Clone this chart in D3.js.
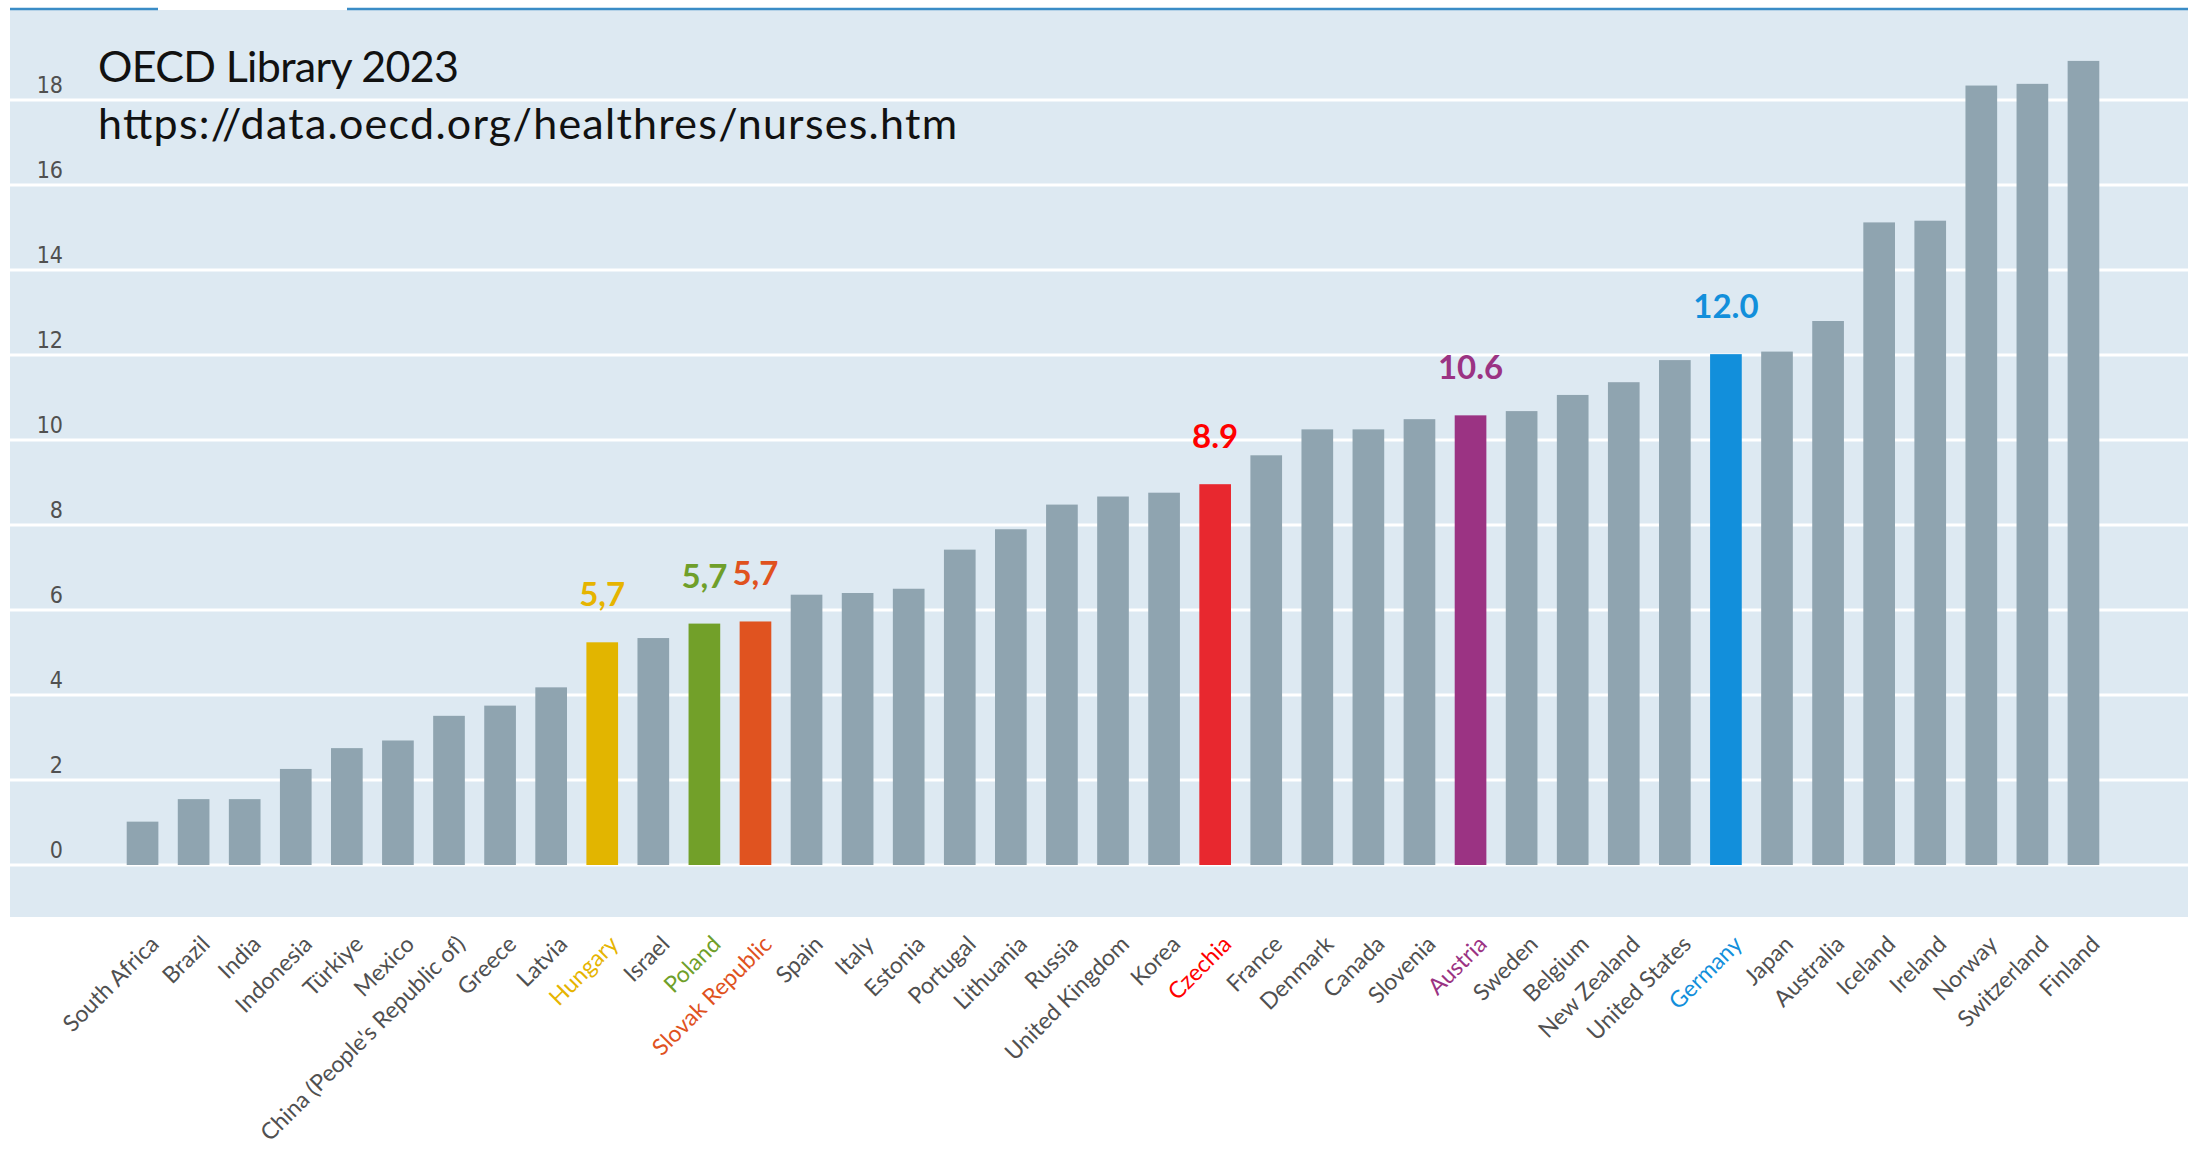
<!DOCTYPE html>
<html>
<head>
<meta charset="utf-8">
<script src="https://cdn.jsdelivr.net/npm/d3@7"></script>
<style>
  html, body { margin: 0; padding: 0; background: #ffffff; }
  svg { display: block; }
</style>
</head>
<body>
<svg id="chart" width="2188" height="1152"></svg>
<script>
// practising nurses per 1000 population
var countries = ["South Africa", "Brazil", "India", "Indonesia", "Türkiye", "Mexico",
    "China (People's Republic of)", "Greece", "Latvia", "Hungary", "Israel", "Poland",
    "Slovak Republic", "Spain", "Italy", "Estonia", "Portugal", "Lithuania", "Russia",
    "United Kingdom", "Korea", "Czechia", "France", "Denmark", "Canada", "Slovenia",
    "Austria", "Sweden", "Belgium", "New Zealand", "United States", "Germany", "Japan",
    "Australia", "Iceland", "Ireland", "Norway", "Switzerland", "Finland"];
var nurses = [1.02, 1.55, 1.55, 2.26, 2.75, 2.93,
    3.51, 3.75, 4.18, 5.24, 5.34, 5.68,
    5.73, 6.36, 6.40, 6.50, 7.42, 7.90, 8.48,
    8.67, 8.76, 8.96, 9.64, 10.25, 10.25, 10.49,
    10.58, 10.68, 11.06, 11.36, 11.88, 12.02, 12.08,
    12.80, 15.12, 15.16, 18.34, 18.38, 18.92];

var highlighted = ["Hungary", "Poland", "Slovak Republic", "Czechia", "Austria", "Germany"];
var highlightLabels = ["5,7", "5,7", "5,7", "8.9", "10.6", "12.0"];
var highlightColors = ["#e2b500", "#72a029", "#e05320", "#e8282f", "#9b3383", "#128fdb"];
var labelColors = ["#e6b400", "#6f9f2a", "#e0521e", "#ff0000", "#9b3383", "#128fdb"];

var yTicks = [0, 2, 4, 6, 8, 10, 12, 14, 16, 18];
var titleLines = ["OECD Library 2023", "https://data.oecd.org/healthres/nurses.htm"];

var svg = d3.select("#chart"),
    W = 2188,
    panelTop = 10,
    panelBottom = 917,
    panelLeft = 10,
    barColor = "#8fa4b0",
    tickColor = "#505050",
    titleWidths = [361, 859];

var x = d3.scaleBand()
    .domain(countries)
    .range([117, 2109])
    .paddingInner(0.38)
    .paddingOuter(0.19);

var y = d3.scaleLinear()
    .domain([0, 18])
    .range([865, 100]);

function colorOf(name) {
    var i = highlighted.indexOf(name);
    return i < 0 ? barColor : highlightColors[i];
}

// panel background
svg.append("rect")
    .attr("x", panelLeft)
    .attr("y", panelTop)
    .attr("width", W - panelLeft)
    .attr("height", panelBottom - panelTop)
    .attr("fill", "#dde9f2");

// blue rule at top, with the little gap
svg.append("line").attr("x1", panelLeft).attr("x2", 158).attr("y1", 9).attr("y2", 9)
    .attr("stroke", "#3a8cc6").attr("stroke-width", 2.5);
svg.append("line").attr("x1", 347).attr("x2", W).attr("y1", 9).attr("y2", 9)
    .attr("stroke", "#3a8cc6").attr("stroke-width", 2.5);

// gridlines
svg.append("g").selectAll("line")
    .data(yTicks)
    .join("line")
    .attr("x1", panelLeft)
    .attr("x2", W)
    .attr("y1", function (d) { return y(d); })
    .attr("y2", function (d) { return y(d); })
    .attr("stroke", "#ffffff")
    .attr("stroke-width", 3);

// y axis labels (sit a bit above their gridline)
var yAxis = svg.append("g")
    .attr("transform", "translate(63,0)")
    .call(d3.axisLeft(y).tickValues(yTicks).tickSize(0).tickPadding(0));
yAxis.select(".domain").remove();
yAxis.selectAll("text")
    .attr("dy", "-8")
    .attr("fill", tickColor)
    .style("font-family", "'Liberation Sans Narrow', 'DejaVu Sans Condensed', sans-serif")
    .style("font-size", "23px");

// bars
svg.append("g").selectAll("rect")
    .data(countries)
    .join("rect")
    .attr("x", function (d) { return x(d); })
    .attr("width", x.bandwidth())
    .attr("y", function (d, i) { return y(nurses[i]); })
    .attr("height", function (d, i) { return y(0) - y(nurses[i]); })
    .attr("fill", function (d) { return colorOf(d); });

// value labels over the highlighted bars
svg.append("g").selectAll("text")
    .data(highlighted)
    .join("text")
    .attr("x", function (d) { return x(d) + x.bandwidth() / 2; })
    .attr("y", function (d) { return y(nurses[countries.indexOf(d)]) - 36; })
    .attr("text-anchor", "middle")
    .attr("fill", function (d, i) { return labelColors[i]; })
    .style("font-family", "Lato, 'Open Sans', sans-serif")
    .style("font-weight", "bold")
    .style("font-size", "33px")
    .text(function (d, i) { return highlightLabels[i]; });

// country labels, rotated
var xAxis = svg.append("g")
    .attr("transform", "translate(0,940)")
    .call(d3.axisBottom(x).tickSize(0));
xAxis.select(".domain").remove();
xAxis.selectAll("text")
    .attr("x", 0)
    .attr("y", 0)
    .attr("dy", "0.35em")
    .attr("text-anchor", "end")
    .attr("transform", "translate(12,0) rotate(-45)")
    .attr("fill", function (d) {
        var i = highlighted.indexOf(d);
        return i < 0 ? tickColor : labelColors[i];
    })
    .style("font-family", "Lato, 'Open Sans', sans-serif")
    .style("font-size", "23px");

// source note in the top left
svg.append("g").selectAll("text")
    .data(titleLines)
    .join("text")
    .attr("x", 98)
    .attr("y", function (d, i) { return 82 + i * 57; })
    .attr("textLength", function (d, i) { return titleWidths[i]; })
    .attr("lengthAdjust", "spacing")
    .attr("fill", "#111111")
    .style("font-family", "Lato, 'Open Sans', sans-serif")
    .style("font-size", "43px")
    .text(function (d) { return d; });
</script>
</body>
</html>
